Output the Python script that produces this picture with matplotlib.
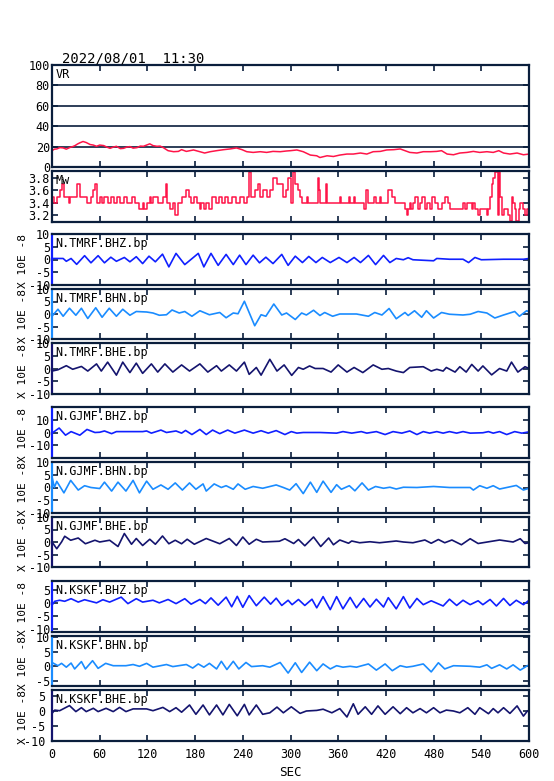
import matplotlib.pyplot as plt

plt.rcParams['font.family'] = 'DejaVu Sans Mono'
plt.rcParams['axes.unicode_minus'] = False

date_label = "2022/08/01  11:30"

# VR (%)
vr_t = [0, 3, 6, 10, 14, 18, 23, 26, 29, 32, 35, 39, 43, 48, 52, 56, 60, 65, 69, 73, 77, 81,
        86, 90, 94, 98, 102, 107, 111, 115, 119, 123, 127, 132, 136, 140, 146, 153, 159, 163,
        169, 178, 186, 192, 199, 207, 216, 224, 232, 239, 245, 253, 262, 270, 278, 287, 295,
        300, 308, 316, 325, 333, 337, 346, 354, 362, 371, 379, 388, 396, 404, 413, 421, 430,
        438, 444, 450, 459, 467, 476, 484, 490, 497, 505, 513, 522, 530, 538, 547, 555, 562,
        568, 576, 585, 593, 600]
vr = [16, 17.5, 17.7, 19, 18.7, 17.5, 19.3, 20, 21, 22.5, 23.7, 25, 24, 22, 21.5, 20.3, 21.5,
      21, 19.5, 18.3, 19.5, 20.3, 18, 18.3, 19.5, 20, 18.5, 19, 20.5, 20.3, 21.5, 22.7, 21,
      20.3, 20.5, 19, 16, 15, 15.3, 17, 15.3, 16.7, 15, 13.7, 15, 16, 17, 17.7, 18.7, 17, 15,
      14.3, 15, 14.3, 15.3, 15, 15.7, 16, 16.7, 15, 11.7, 11, 9.3, 11, 10.3, 11.7, 12.7, 12.7,
      13.7, 12.7, 15, 15.3, 16.7, 17, 17.7, 16, 14.3, 13.7, 15, 15, 15.3, 16, 12.7, 12, 13.7,
      14.3, 15.3, 14.3, 15, 14.3, 16, 13.7, 12.7, 13.7, 12, 12.7]

# Mw, step series (start time of each step, value)
mw_t = [0, 3, 6, 10, 13, 15, 21, 23, 32, 35, 44, 49, 52, 54, 57, 60, 63, 66, 70, 74, 78, 82,
        86, 90, 94, 100, 105, 110, 114, 116, 120, 123, 125, 127, 133, 140, 143, 145, 148, 152,
        155, 158, 163, 169, 172, 175, 178, 182, 186, 188, 191, 194, 197, 201, 206, 210, 214,
        218, 222, 226, 232, 236, 241, 245, 248, 250, 255, 259, 262, 266, 270, 274, 278, 283,
        291, 294, 297, 301, 303, 306, 310, 312, 314, 321, 322, 335, 336, 337, 345, 346, 362,
        364, 373, 375, 380, 381, 393, 395, 397, 405, 407, 412, 414, 423, 428, 431, 444, 446,
        448, 450, 452, 454, 457, 460, 463, 466, 469, 472, 475, 478, 482, 486, 490, 494, 498,
        501, 517, 520, 522, 528, 530, 532, 536, 538, 547, 549, 551, 553, 555, 557, 561, 562,
        564, 566, 568, 573, 576, 578, 580, 582, 584, 587, 589, 592, 595, 597]
mw = [3.5, 3.4, 3.5, 3.6, 3.7, 3.5, 3.4, 3.5, 3.7, 3.5, 3.4, 3.5, 3.6, 3.7, 3.4, 3.5, 3.4, 3.5,
      3.4, 3.5, 3.4, 3.5,
      3.4, 3.5, 3.4, 3.5, 3.4, 3.3, 3.4, 3.3, 3.4, 3.5, 3.4, 3.5, 3.4, 3.5, 3.7, 3.4, 3.3, 3.4,
      3.2, 3.4, 3.5, 3.6, 3.5, 3.4, 3.5, 3.4, 3.3, 3.4, 3.3, 3.4, 3.3, 3.5, 3.4, 3.5, 3.4,
      3.5, 3.4, 3.5, 3.4, 3.5, 3.4, 3.5, 3.9, 3.5, 3.6, 3.7, 3.5, 3.6, 3.5, 3.6, 3.8, 3.7,
      3.5, 3.6, 3.8, 3.4, 3.9, 3.7, 3.6, 3.5, 3.4, 3.5, 3.4, 3.8, 3.6, 3.4, 3.7, 3.4, 3.5,
      3.4, 3.5, 3.4, 3.5, 3.4, 3.3, 3.6, 3.4, 3.5, 3.4, 3.5, 3.4, 3.6, 3.5, 3.4, 3.3, 3.2,
      3.3, 3.4, 3.3, 3.4, 3.5, 3.3, 3.4, 3.5, 3.3, 3.4, 3.3, 3.5, 3.4, 3.3, 3.4, 3.5, 3.4,
      3.3, 3.4, 3.3, 3.4, 3.3, 3.4, 3.3, 3.2, 3.3, 3.2, 3.3, 3.5, 3.7, 3.8, 3.9, 3.2, 3.9,
      3.5, 3.2, 3.3, 3.2, 3.1, 3.5, 3.4, 3.3, 3.1, 3.3, 3.4, 3.3, 3.2, 3.3]

# waveforms (x 10E-8), time in sec
tmrf_bhz_t = [0, 14, 18, 24, 31, 41, 49, 58, 66, 74, 81, 91, 98, 106, 114, 122, 130, 139, 147,
              156, 167, 184, 191, 200, 209, 219, 228, 236, 244, 253, 261, 269, 278, 289, 297,
              306, 315, 323, 332, 340, 350, 361, 371, 380, 388, 398, 407, 417, 425, 433, 442,
              448, 454, 480, 484, 500, 517, 524, 532, 540, 568, 593, 600]
tmrf_bhz = [0.4, 0.4, -0.7, 0.4, -1.9, 1.5, -1.3, 1.5, -1.3, 0.9, -0.7, 0.8, -0.9, 1.1, -1.6,
            1.3, -0.9, 2.1, -2.9, 2.4, -2.0, 2.4, -2.9, 2.4, -2.3, 2.0, -2.0, 1.7, -2.0, 1.7,
            -1.3, 0.9, -1.6, 2.0, -2.3, 1.3, -1.2, 1.2, -1.2, 0.8, -1.2, 0.8, -1.2, 0.8, -1.2,
            1.6, -2.0, 1.6, -1.2, 0.4, -0.1, 0.7, -0.1, -0.5, 0.4, 0.1, 0.1, -1.2, 0.8, -0.1,
            0.1, 0.1, 0.4]

tmrf_bhn_t = [0, 7.5, 14, 22, 30, 37, 45, 55, 63, 72, 81, 89, 98, 106, 119, 127, 135, 144, 151,
              160, 167, 176, 186, 198, 211, 219, 228, 234, 242, 255, 263, 269, 279, 289, 295,
              306, 314, 320, 329, 337, 343, 353, 362, 383, 398, 406, 415, 424, 433, 444, 448,
              456, 465, 471, 480, 490, 500, 517, 526, 536, 547, 557, 568, 582, 588, 597, 600]
tmrf_bhn = [-0.9, 1.9, -0.9, 2.3, -0.5, 2.3, -1.8, 2.5, -1.3, 2.3, -0.9, 1.9, -0.5, 1.0, 0.8,
            0.4, -0.5, -0.3, 1.6, 0.4, 1.0, -0.9, 1.3, -0.3, 0.6, -1.5, 0.4, 0.1, 5.1, -4.7,
            -0.3, -0.9, 4.0, -0.4, 0.4, -2.2, 0.4, -0.4, 1.5, -0.6, 0.6, -0.9, 0.0, 0.0, -0.9,
            0.6, -0.4, 2.2, -1.9, 0.6, -0.6, 1.3, -1.3, 1.3, -1.6, 0.6, -0.1, -0.4, -0.1, 1.0,
            0.4, -1.6, -0.4, 1.0, -0.9, 1.3, 0.9]

tmrf_bhe_t = [0, 7.5, 18, 26, 37, 45, 56, 62, 70, 81, 89, 98, 106, 114, 125, 133, 142, 152, 163,
              173, 186, 196, 207, 213, 223, 232, 242, 248, 257, 263, 274, 283, 292, 301.5, 310,
              316, 324, 331, 341, 351, 360, 371, 380, 391, 404, 415, 423, 433, 442, 450, 467,
              477, 484, 492, 496, 507, 513, 521, 528, 536, 542, 553, 563, 572, 578, 586, 595,
              600]
tmrf_bhe = [-1.0, -0.5, 1.1, -0.3, 0.8, -1.0, 1.8, -1.0, 2.5, -2.6, 2.5, -1.6, 2.1, -1.9, 1.8,
            -1.4, 1.8, -1.4, 1.4, -1.0, 1.8, -1.4, 1.1, -1.0, 1.4, -1.0, 2.5, -2.3, 0.4, -2.6,
            3.6, -1.0, 1.4, -2.7, 0.4, -0.3, 1.0, 0.0, 0.0, -1.4, 1.4, -1.4, 0.4, -1.6, 1.4,
            -0.3, 0.0, -1.0, -1.6, 0.4, 0.7, -1.0, -0.3, -1.0, 0.4, -1.4, 0.7, -1.4, 1.6, -1.0,
            1.0, -2.5, 0.0, -1.0, 2.5, -1.4, 0.7, 0.0]

gjmf_bhz_t = [0, 9, 17, 24, 35, 44, 54, 60, 66, 75, 81, 114, 119, 125, 137, 144, 156, 163, 168,
              176, 186, 194, 202, 211, 221, 230, 242, 253, 263, 272, 282, 293, 301, 308, 316,
              337, 358, 366, 377, 389, 396, 408, 419, 429, 440, 450, 459, 467, 475, 484, 492,
              500, 509, 517, 526, 542, 549, 555, 563, 572, 582, 591, 600]
gjmf_bhz = [-0.5, 3.5, -2.1, 0.7, -2.1, 2.4, 0.0, 0.2, 1.2, -0.9, 0.7, 0.7, 1.2, -0.5, 1.9,
            0.0, 1.2, -0.5, 1.6, -1.6, 2.4, -1.6, 1.9, -0.9, 1.9, -0.5, 1.9, -0.5, 1.4, -0.5,
            1.5, -1.6, 0.7, -0.5, 0.0, 0.0, -0.5, 0.7, -0.5, 0.7, -0.5, 0.7, -1.6, 0.7, -0.5,
            1.2, -1.6, 0.7, -0.5, 0.7, -0.5, 0.7, -0.5, 0.7, -0.5, -0.2, 0.7, -0.5, 0.7, -1.6,
            0.7, -0.5, 0.5]

gjmf_bhn_t = [0, 3, 6, 15, 23.5, 33, 41, 49, 60, 66, 75, 83, 93, 102, 110, 119, 127, 137, 146,
              155, 164, 173, 181, 190, 194, 204, 213, 219, 228, 234, 243, 253, 265, 282, 291,
              299, 307, 316, 325, 333, 341, 351, 358, 364, 374, 381, 390, 398, 407, 417, 425,
              433, 442, 459, 480, 500, 526, 530, 538, 547, 555, 563, 572, 584, 593, 600]
gjmf_bhn = [4.2, 0.0, 2.4, -2.1, 2.8, -1.0, 0.7, 0.0, -0.4, 2.1, -1.4, 2.1, -1.4, 2.8, -2.1,
            2.5, -0.7, 1.0, -0.7, 1.8, -1.0, 1.8, -0.7, 1.4, -1.4, 1.4, 0.0, 0.7, -0.7, 1.4,
            -0.7, 0.4, -0.3, 1.0, 0.0, -1.0, 1.5, -2.4, 2.1, -1.9, 2.5, -1.9, 1.1, -0.7, 0.7,
            -1.3, 1.8, -1.0, 0.4, -0.3, 0.1, -0.6, 0.1, 0.0, 0.4, 0.0, 0.0, -1.0, 0.7, -0.3,
            0.7, -0.6, 0.0, 0.8, -1.0, -0.3]

gjmf_bhe_t = [0, 6, 12, 16, 23.5, 33, 42, 54, 60, 72.5, 83, 91, 100, 106, 114, 123, 130, 139,
              147, 155, 163, 170, 179, 194, 211, 223, 232, 240, 248, 257, 265, 286, 293, 304,
              310, 318, 329, 338, 348, 354, 362, 373, 377, 387, 400, 412, 433, 442, 454, 469,
              477, 486, 494, 503, 515, 526, 536, 563, 580, 589, 595, 600]
gjmf_bhe = [0.0, -2.7, 0.0, 2.3, 0.7, 1.6, -0.7, 0.7, 0.0, 0.7, -1.8, 3.4, -0.9, 1.4, -1.4,
            1.1, -0.9, 2.4, -0.7, 0.7, -0.7, 1.1, -0.9, 1.4, -0.7, 1.4, -1.4, 2.0, -0.9, 1.1,
            0.0, 0.3, 1.3, -0.6, 1.0, -1.5, 2.0, -1.8, 1.6, -1.1, 0.8, -0.5, 0.4, -0.3, 0.1,
            -0.3, 0.4, 0.0, -0.3, 0.8, -0.5, 1.0, -0.3, 0.8, -1.1, 1.3, -0.6, 0.8, 0.0, 1.3,
            -0.6, -0.3]

kskf_bhz_t = [0, 3.4, 9.6, 16, 24, 33, 41, 56, 64, 72.5, 87, 95.5, 106, 114, 127, 135, 146, 156,
              167, 175, 186, 193, 200, 209, 219, 226, 233, 240, 248, 257, 267, 275, 282, 289,
              297, 302, 310, 318, 327, 333, 341, 350, 358, 366, 375, 383, 392, 400, 408, 417,
              423, 433, 442, 450, 459, 467, 477, 492, 500, 509, 517, 526, 536, 542, 551, 559,
              568, 576, 584, 593, 600]
kskf_bhz = [-1.0, 0.5, 0.9, 0.5, 1.5, 0.2, 1.1, -0.1, 1.1, 0.2, 2.1, -0.4, 1.5, 0.2, 0.9, -0.1,
            1.2, -0.4, 1.5, -0.6, 1.2, -0.4, 1.8, -1.0, 2.1, -1.6, 2.4, -1.8, 2.7, -1.2, 2.1,
            -0.6, 1.7, -1.1, 0.9, -0.8, 1.2, -1.1, 1.3, -2.0, 2.3, -2.7, 2.3, -2.4, 2.0, -2.0,
            1.6, -1.7, 1.3, -1.7, 1.9, -2.4, 2.3, -2.1, 1.6, -0.8, 0.7, -1.3, 1.3, -1.1, 0.9,
            -0.8, 0.7, -0.8, 1.2, -1.3, 1.6, -1.1, 0.9, -0.8, 0.9]

kskf_bhn_t = [0, 7.5, 12, 18, 24, 28.5, 37, 42, 51, 58, 67.5, 77, 93, 102, 110, 119, 127, 144,
              152, 169, 177, 184, 191, 198, 207, 213, 220, 228, 235, 244, 251, 265, 274, 287,
              297, 306, 314, 324, 333, 341, 350, 358, 366, 375, 383, 398, 408, 419, 428, 438,
              446, 454, 467, 477, 486, 494, 505, 526, 538, 547, 553, 563, 572, 580, 589, 598]
kskf_bhn = [1.3, 0.2, 1.0, -0.3, 1.1, -0.9, 1.6, -0.9, 1.9, -0.7, 1.0, 0.2, 0.2, 0.6, 0.0, 1.0,
            -0.3, 0.6, -0.1, 0.6, -0.6, 0.8, -0.3, 1.0, -0.9, 1.7, -1.1, 1.7, -0.9, 1.3, -0.1,
            0.2, -0.3, 1.3, -2.3, 1.2, -2.1, 1.4, -1.5, 0.8, -0.9, 0.2, -0.3, 0.0, -0.3, 0.8,
            -1.3, 0.8, -1.5, 0.2, -0.3, 0.0, 0.8, -1.9, 1.2, -0.9, 0.2, 0.0, -0.3, 0.5, -0.7,
            0.5, -0.9, 0.5, -1.3, 0.2]

kskf_bhe_t = [0, 3.4, 9.6, 22, 30, 37, 43, 52, 58, 68, 77, 85, 93, 102, 119, 127, 139.5, 148,
              156, 163, 173, 181, 190, 198, 207, 215, 223, 233, 242, 248, 257, 265, 274, 283,
              291, 301, 312, 320, 333, 341, 352, 362, 371, 379, 385, 394, 402, 410, 419, 429,
              438, 446, 454, 463, 471, 480, 488, 496, 505, 513, 523, 532, 538, 549, 555, 561,
              568, 576, 585, 593, 598]
kskf_bhe = [-0.8, 0.3, 0.1, 1.8, -0.2, 1.1, -0.2, 0.9, -0.2, 0.9, -0.2, 1.2, -0.2, 0.7, 0.7,
            0.1, 1.2, -0.2, 1.1, -0.4, 2.0, -1.1, 2.0, -1.3, 2.0, -1.3, 2.2, -1.6, 2.2, -1.3,
            2.0, -1.1, -0.6, 1.3, -0.6, 1.4, -0.8, 0.0, 0.2, 0.6, -0.6, 0.8, -2.0, 2.4, -1.1,
            1.4, -1.1, 1.7, -1.1, 1.4, -0.9, 1.1, -0.6, 0.8, -0.6, 1.1, -0.6, 0.3, 0.0, -0.6,
            1.1, -1.1, 1.1, -0.9, 0.8, -0.6, 1.1, -0.8, 1.7, -1.7, 0.0]

navy = '#0a1e3c'
red = '#ff1448'
c_z, c_n, c_e = '#1020ff', '#1a8cff', '#14146e'

W, H = 554, 781
fig = plt.figure(figsize=(W / 100, H / 100), dpi=100)


def add_panel(top, bottom):
    ax = fig.add_axes([52 / W, 1 - bottom / H, 477 / W, (bottom - top) / H])
    for s in ax.spines.values():
        s.set_linewidth(1.6)
        s.set_color(navy)
    ax.tick_params(direction='in', top=True, right=True, length=4, width=1.2,
                   color=navy, labelsize=8.5, pad=1.5, labelbottom=False)
    ax.set_xlim(0, 600)
    ax.set_xticks(range(0, 601, 60))
    return ax


def tag(ax, text):
    ax.annotate(text, xy=(0, 1), xycoords='axes fraction', xytext=(2.5, -2.5),
                textcoords='offset points', ha='left', va='top', fontsize=8.5)


fig.text(62 / W, 1 - 62.5 / H, date_label, fontsize=10, va='baseline', ha='left')

# VR
ax = add_panel(65, 167)
ax.set_ylim(0, 100)
ax.set_yticks(range(0, 101, 20))
for g in [20, 40, 60, 80]:
    ax.axhline(g, color=navy, lw=1.2, zorder=1)
ax.plot(vr_t, vr, color=red, lw=1.1, zorder=2)
tag(ax, 'VR')

# Mw
ax = add_panel(171, 222)
ax.set_ylim(3.09, 3.91)
ax.set_yticks([3.2, 3.4, 3.6, 3.8])
ax.plot(mw_t + [600], mw + [mw[-1]], color=red, lw=1.1, drawstyle='steps-post')
tag(ax, 'Mw')

panels = [
    ('N.TMRF.BHZ.bp', tmrf_bhz_t, tmrf_bhz, c_z, 234, 285, (-10, 10), [-10, -5, 0, 5, 10]),
    ('N.TMRF.BHN.bp', tmrf_bhn_t, tmrf_bhn, c_n, 289, 339, (-10, 10), [-10, -5, 0, 5, 10]),
    ('N.TMRF.BHE.bp', tmrf_bhe_t, tmrf_bhe, c_e, 343, 394, (-10, 10), [-10, -5, 0, 5, 10]),
    ('N.GJMF.BHZ.bp', gjmf_bhz_t, gjmf_bhz, c_z, 407, 458, (-20, 20), [-10, 0, 10]),
    ('N.GJMF.BHN.bp', gjmf_bhn_t, gjmf_bhn, c_n, 462, 513, (-10, 10), [-10, -5, 0, 5, 10]),
    ('N.GJMF.BHE.bp', gjmf_bhe_t, gjmf_bhe, c_e, 517, 567, (-10, 10), [-10, -5, 0, 5, 10]),
    ('N.KSKF.BHZ.bp', kskf_bhz_t, kskf_bhz, c_z, 581, 632, (-11.3, 8.3), [-10, -5, 0, 5]),
    ('N.KSKF.BHN.bp', kskf_bhn_t, kskf_bhn, c_n, 636, 686, (-6.7, 10.3), [-5, 0, 5, 10]),
    ('N.KSKF.BHE.bp', kskf_bhe_t, kskf_bhe, c_e, 690, 741, (-10, 7), [-10, -5, 0, 5]),
]

for name, t, amp, col, top, bottom, ylim, yt in panels:
    ax = add_panel(top, bottom)
    ax.set_ylim(*ylim)
    ax.set_yticks(yt)
    ax.spines['left'].set_color(col)
    ax.plot(t, amp, color=col, lw=1.2)
    tag(ax, name)
    fig.text(23 / W, 1 - ((top + bottom) / 2 + 2) / H, 'X 10E -8', rotation=90,
             ha='center', va='center', fontsize=8)

ax.tick_params(labelbottom=True, pad=5)
fig.text(290 / W, 1 - 773 / H, 'SEC', ha='center', va='center', fontsize=9)

fig.savefig('out.png', dpi=100)
